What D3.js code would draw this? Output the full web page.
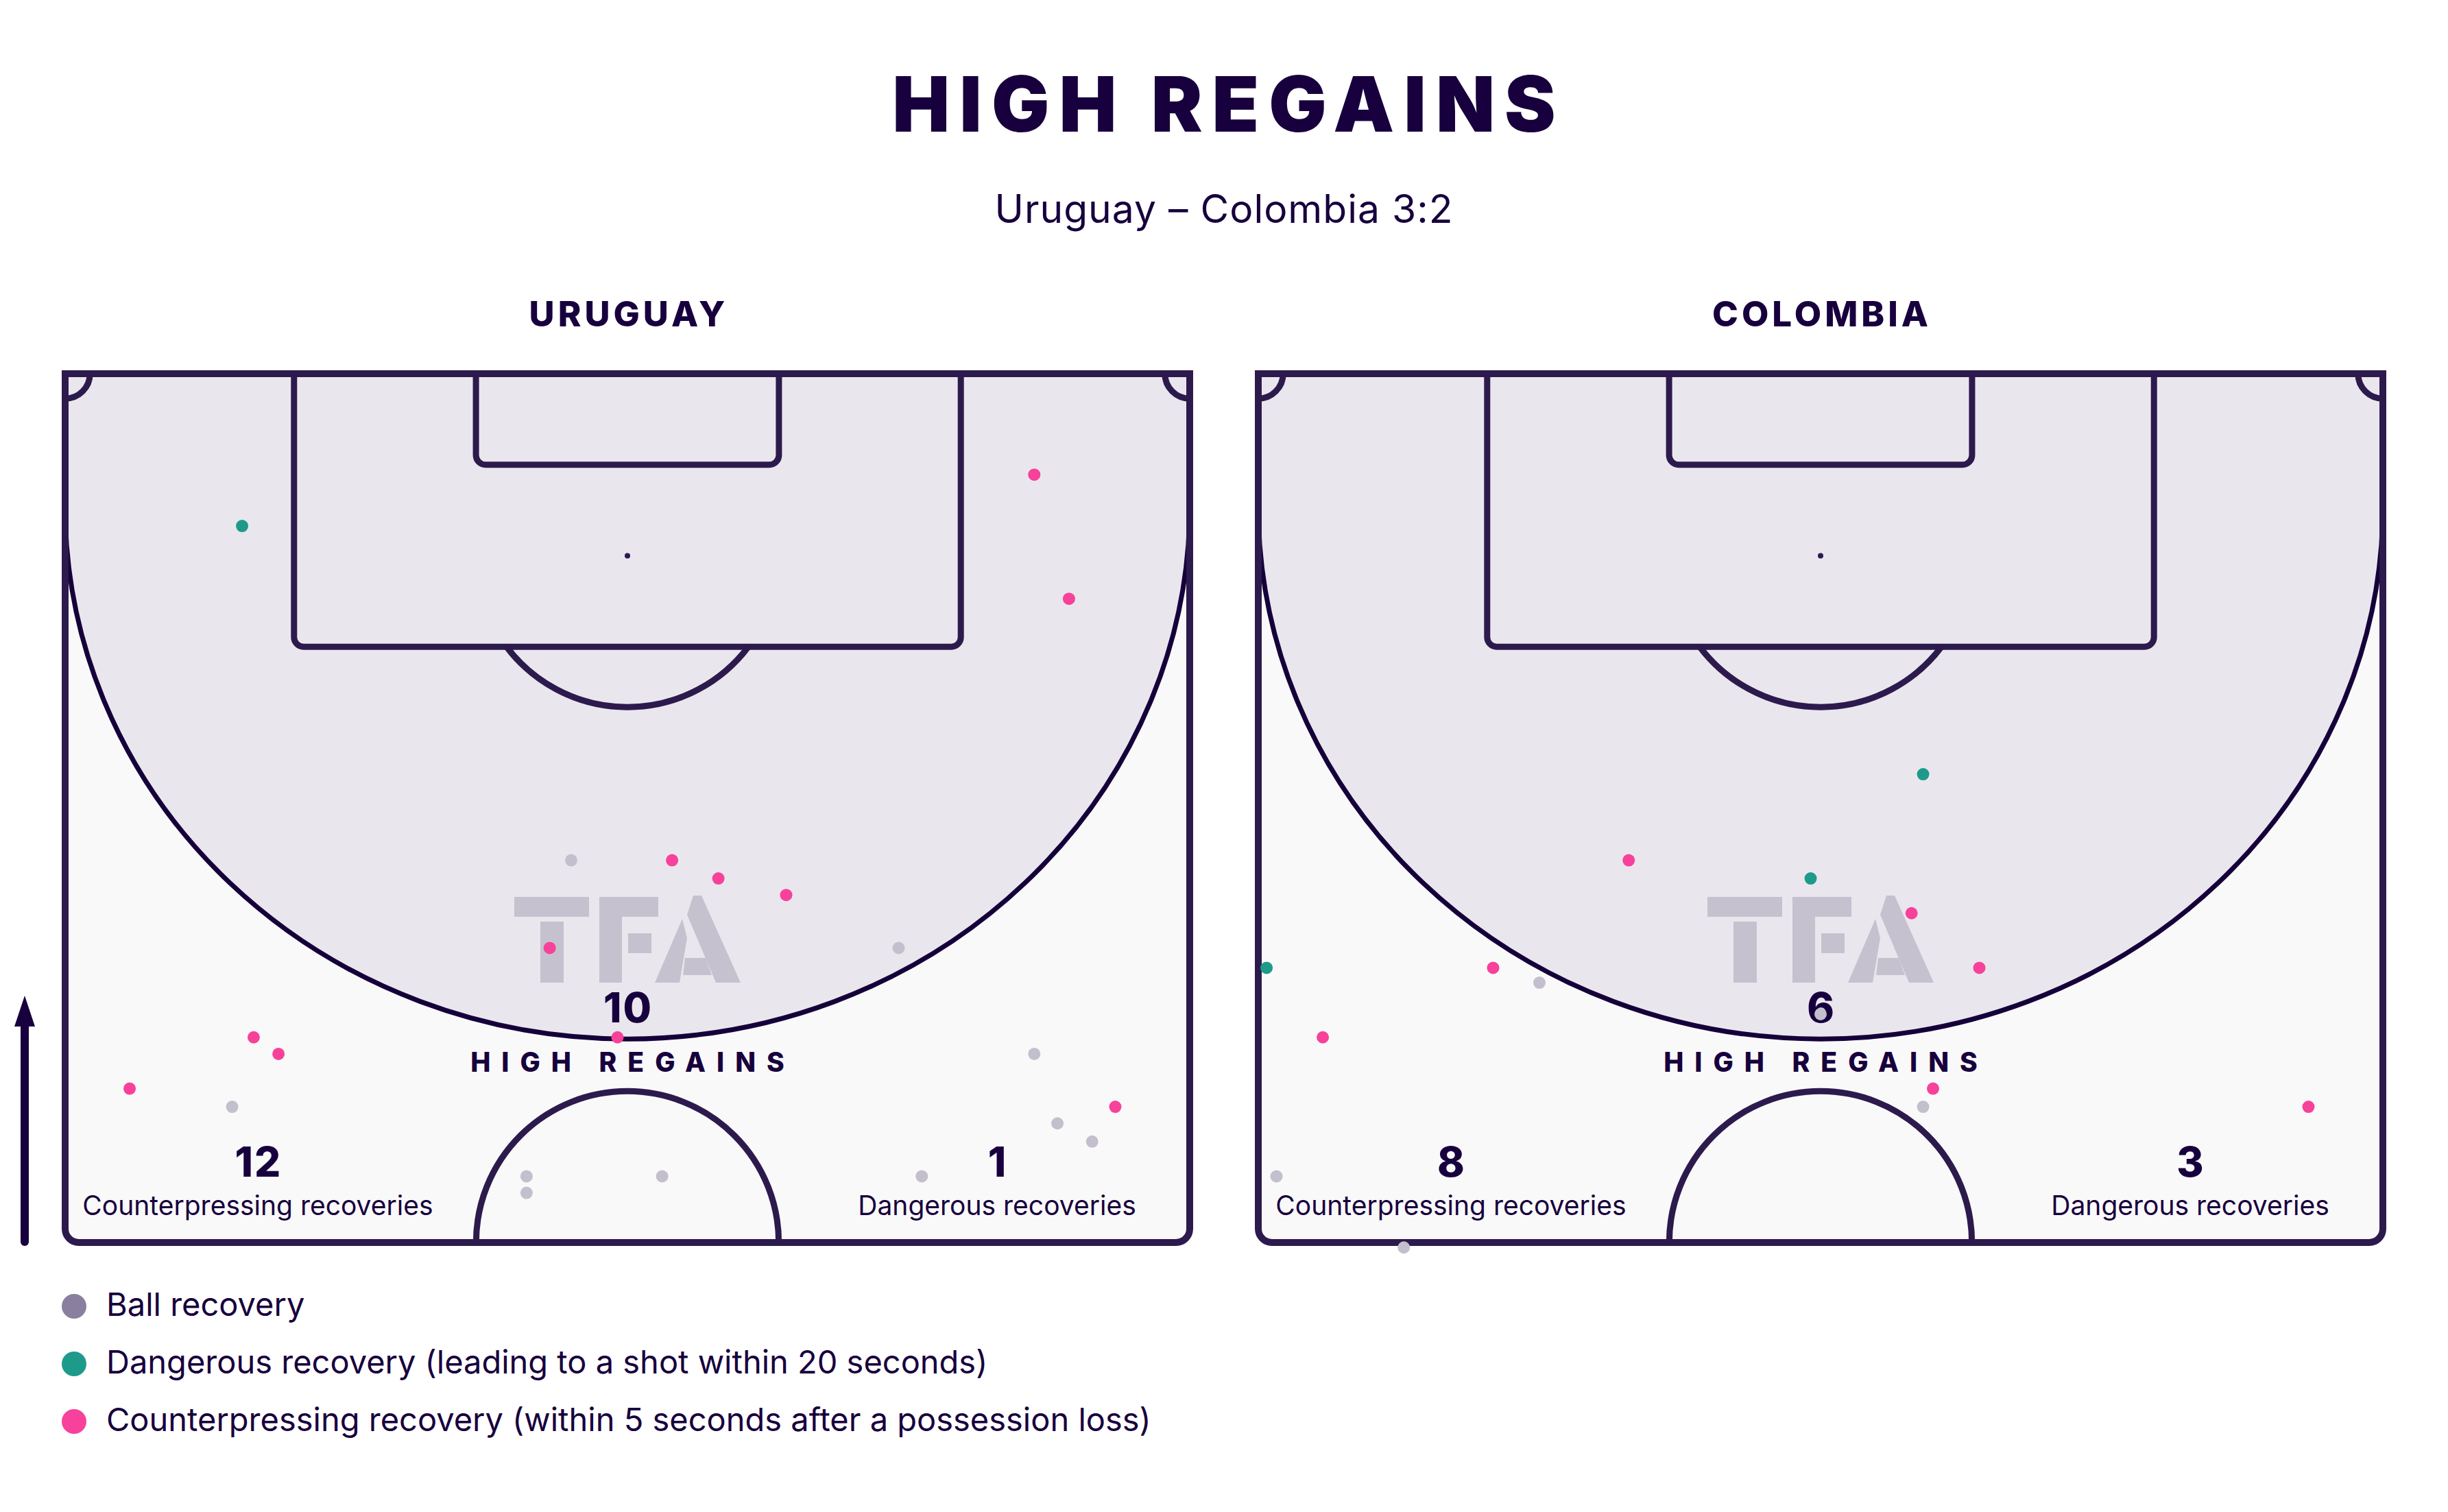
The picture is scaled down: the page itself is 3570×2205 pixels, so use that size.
<!DOCTYPE html>
<html>
<head>
<meta charset="utf-8">
<script src="https://cdn.jsdelivr.net/npm/d3@7"></script>
<style>
  body { margin: 0; background: #fff; }
  text { font-family: Inter, "Noto Sans", sans-serif; fill: #17003d; }
</style>
</head>
<body>
<div id="graph"></div>
<script>
"use strict";

// ---- data (pitch metres: x across 0-68, y from goal line 0-52.5) ----
let teams = ['URUGUAY', 'COLOMBIA'];
let highRegains = [10, 6];
let counterpressingCount = [12, 8];
let dangerousCount = [1, 3];

let uruguayBall = [
  [30.6, 29.4], [50.4, 34.7], [58.6, 41.1], [60.0, 45.3], [62.1, 46.4],
  [10.1, 44.3], [27.9, 48.5], [27.9, 49.5], [36.1, 48.5], [51.8, 48.5]
];
let uruguayCounter = [
  [58.6, 6.1], [60.7, 13.6], [36.7, 29.4], [39.5, 30.5], [43.6, 31.5],
  [29.3, 34.7], [33.4, 40.1], [11.4, 40.1], [12.9, 41.1], [3.9, 43.2], [63.5, 44.3]
];
let uruguayDanger = [
  [10.7, 9.2]
];

let colombiaBall = [
  [17.0, 36.8], [34.0, 38.7], [40.2, 44.3], [1.1, 48.5], [8.8, 52.8]
];
let colombiaCounter = [
  [22.4, 29.4], [39.5, 32.6], [14.2, 35.9], [43.6, 35.9], [3.9, 40.1],
  [40.8, 43.2], [63.5, 44.3]
];
let colombiaDanger = [
  [40.2, 24.2], [33.4, 30.5], [0.5, 35.9]
];

let ballData = [uruguayBall, colombiaBall];
let counterData = [uruguayCounter, colombiaCounter];
let dangerData = [uruguayDanger, colombiaDanger];

let legendLabels = [
  'Ball recovery',
  'Dangerous recovery (leading to a shot within 20 seconds)',
  'Counterpressing recovery (within 5 seconds after a possession loss)'
];

// ---- look ----
let ink = '#17003d';
let lineCol = '#2d1a4d';
let greyDot = '#c4bfcc';
let greyLegend = '#8a7f9e';
let teal = '#1e9a8a';
let pink = '#f7419a';
let zoneFill = '#e9e7ed';
let pitchFill = '#f9f9f9';

let translateStr = (x, y) => {
  return 'translate(' + x + ', ' + y + ')';
};

let width = 3570;
let height = 2205;
let pitchW = 1640;
let pitchH = 1267;
let pitchTop = 545;
let pitchLeft = [95, 1835];

let x = d3.scaleLinear().domain([0, 68]).range([0, pitchW]);
let y = d3.scaleLinear().domain([0, 52.5]).range([0, pitchH]);

let svg = d3.select('#graph')
  .append('svg')
  .attr('width', width)
  .attr('height', height);

// titles
svg.append('text')
  .attr('x', 1792)
  .attr('y', 192)
  .attr('text-anchor', 'middle')
  .style('font-size', '112px')
  .style('font-weight', 900)
  .style('letter-spacing', '14px')
  .text('HIGH REGAINS');

svg.append('text')
  .attr('x', 1785)
  .attr('y', 325)
  .attr('text-anchor', 'middle')
  .style('font-size', '57px')
  .style('letter-spacing', '1px')
  .text('Uruguay – Colombia 3:2');

// direction arrow
svg.append('line')
  .attr('x1', 36).attr('x2', 36)
  .attr('y1', 1811).attr('y2', 1490)
  .attr('stroke', ink)
  .attr('stroke-width', 12)
  .attr('stroke-linecap', 'round');
svg.append('path')
  .attr('d', 'M21,1497 L36,1452 L51,1497 Z')
  .attr('fill', ink);

// TFA watermark, local units
let logoParts = [
  'M0,2 H109 V31 H0 Z',
  'M38,38 H72 V127 H38 Z',
  'M124,2 H210 V31 H157 V127 H124 Z',
  'M166,55 H200 V84 H166 Z',
  'M261,0 H273 L330,127 H294 L252,28 Z',
  'M245,34 L252,62 L241,127 H205 Z',
  'M249,91 H279 L288,116 H246 Z'
];

let drawPitch = (i) => {
  let g = svg.append('g')
    .attr('transform', translateStr(pitchLeft[i], pitchTop));

  let r = 20;
  let outline = 'M0,0 H' + pitchW + ' V' + (pitchH - r) +
    ' A' + r + ',' + r + ' 0 0 1 ' + (pitchW - r) + ',' + pitchH +
    ' H' + r + ' A' + r + ',' + r + ' 0 0 1 0,' + (pitchH - r) + ' Z';
  g.append('path')
    .attr('d', outline)
    .attr('fill', pitchFill);

  // high regain zone
  let cy = y(8);
  let ry = y(32.2);
  let zone = 'M0,0 V' + cy + ' A' + x(34) + ',' + ry + ' 0 0 0 ' + x(68) + ',' + cy + ' V0 Z';
  g.append('path')
    .attr('d', zone)
    .attr('fill', zoneFill);
  g.append('path')
    .attr('d', 'M0,' + cy + ' A' + x(34) + ',' + ry + ' 0 0 0 ' + x(68) + ',' + cy)
    .attr('fill', 'none')
    .attr('stroke', '#15003a')
    .attr('stroke-width', 7);

  let lines = g.append('g')
    .attr('fill', 'none')
    .attr('stroke', lineCol)
    .attr('stroke-width', 9);

  let box = (x0, x1, depth, rr) => {
    return 'M' + x(x0) + ',0 V' + (y(depth) - rr) +
      ' A' + rr + ',' + rr + ' 0 0 0 ' + (x(x0) + rr) + ',' + y(depth) +
      ' H' + (x(x1) - rr) +
      ' A' + rr + ',' + rr + ' 0 0 0 ' + x(x1) + ',' + (y(depth) - rr) + ' V0';
  };
  lines.append('path').attr('d', box(13.84, 54.16, 16.5, 14));
  lines.append('path').attr('d', box(24.84, 43.16, 5.5, 14));

  let cr = x(9.15);
  lines.append('path')
    .attr('d', 'M' + x(34 - 7.31) + ',' + y(16.5) + ' A' + cr + ',' + cr + ' 0 0 0 ' + x(34 + 7.31) + ',' + y(16.5));
  lines.append('path')
    .attr('d', 'M' + x(34 - 9.15) + ',' + y(52.5) + ' A' + cr + ',' + cr + ' 0 0 1 ' + x(34 + 9.15) + ',' + y(52.5));

  let kr = x(1.5);
  lines.append('path').attr('d', 'M' + kr + ',0 A' + kr + ',' + kr + ' 0 0 1 0,' + kr);
  lines.append('path').attr('d', 'M' + (pitchW - kr) + ',0 A' + kr + ',' + kr + ' 0 0 0 ' + pitchW + ',' + kr);

  // outer border
  g.append('path')
    .attr('d', outline)
    .attr('fill', 'none')
    .attr('stroke', lineCol)
    .attr('stroke-width', 10);

  g.append('circle')
    .attr('cx', x(34)).attr('cy', y(11)).attr('r', 4)
    .attr('fill', lineCol);

  g.append('g')
    .attr('transform', translateStr(x(34) - 165, 761))
    .selectAll('path')
    .data(logoParts)
    .join('path')
    .attr('d', d => d)
    .attr('fill', '#c6c1cf');

  // team name
  g.append('text')
    .attr('x', x(34) + 2).attr('y', -69)
    .attr('text-anchor', 'middle')
    .style('font-size', '51px')
    .style('font-weight', 800)
    .style('letter-spacing', '5px')
    .text(teams[i]);

  // stats
  g.append('text')
    .attr('x', x(34) + 1).attr('y', 946)
    .attr('text-anchor', 'middle')
    .style('font-size', '60px')
    .style('font-weight', 800)
    .style('letter-spacing', '2px')
    .text(highRegains[i]);
  g.append('text')
    .attr('x', x(34) + 8).attr('y', 1018)
    .attr('text-anchor', 'middle')
    .style('font-size', '39px')
    .style('font-weight', 800)
    .style('letter-spacing', '16px')
    .text('HIGH REGAINS');

  let statX = [x(11.65), x(68 - 11.65)];
  let statN = [counterpressingCount[i], dangerousCount[i]];
  let statL = ['Counterpressing recoveries', 'Dangerous recoveries'];
  statX.forEach((sx, k) => {
    g.append('text')
      .attr('x', sx + 1).attr('y', 1171)
      .attr('text-anchor', 'middle')
      .style('font-size', '60px')
      .style('font-weight', 800)
      .style('letter-spacing', '2px')
      .text(statN[k]);
    g.append('text')
      .attr('x', sx).attr('y', 1227)
      .attr('text-anchor', 'middle')
      .style('font-size', '39px')
      .text(statL[k]);
  });

  // recoveries
  let layers = [[ballData[i], greyDot], [counterData[i], pink], [dangerData[i], teal]];
  layers.forEach(l => {
    g.append('g')
      .selectAll('circle')
      .data(l[0])
      .join('circle')
      .attr('cx', d => x(d[0]))
      .attr('cy', d => y(d[1]))
      .attr('r', 9)
      .attr('fill', l[1]);
  });
};

drawPitch(0);
drawPitch(1);

// legend
let legendCols = [greyLegend, teal, pink];
let legend = svg.append('g')
  .selectAll('g')
  .data(legendLabels)
  .join('g')
  .attr('transform', (d, i) => translateStr(108, 1905 + i * 84));

legend.append('circle')
  .attr('r', 18)
  .attr('fill', (d, i) => legendCols[i]);

legend.append('text')
  .attr('x', 47)
  .attr('y', 14)
  .style('font-size', '47px')
  .text(d => d);
</script>
</body>
</html>
